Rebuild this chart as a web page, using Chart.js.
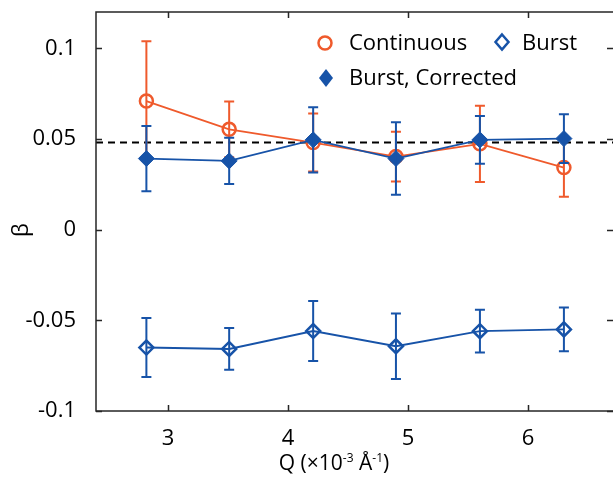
<!DOCTYPE html>
<html><head><meta charset="utf-8">
<script src="https://cdn.jsdelivr.net/npm/chart.js@4/dist/chart.umd.min.js"></script>
<style>
html,body{margin:0;padding:0;background:#fff;overflow:hidden;width:613px;height:477px}
#wrap{position:relative;width:625px;height:477px}
</style></head>
<body><div id="wrap"><canvas id="c" width="625" height="477"></canvas></div>
<script>
// ---- data ----
const qValues = [2.82, 3.51, 4.21, 4.90, 5.60, 6.30];
const continuous = [0.0709, 0.0553, 0.0480, 0.0403, 0.0473, 0.0342];
const continuousErr = [0.033, 0.0154, 0.016, 0.0137, 0.021, 0.016];
const burst = [-0.0650, -0.0658, -0.0559, -0.0643, -0.0560, -0.0550];
const burstErr = [0.0163, 0.0115, 0.0165, 0.0180, 0.0118, 0.0120];
const corrected = [0.0392, 0.0379, 0.0495, 0.0392, 0.0495, 0.0502];
const correctedErr = [0.0180, 0.0128, 0.0180, 0.0200, 0.0132, 0.0134];
const referenceLevel = 0.048;
const xTicks = [3, 4, 5, 6];
const yTicks = [-0.1, -0.05, 0, 0.05, 0.1];
const yTickLabels = ['-0.1', '-0.05', '0', '0.05', '0.1'];
const seriesNames = ['Continuous', 'Burst', 'Burst, Corrected'];

const ORANGE = '#EF5A2C';
const BLUE = '#1753A8';
const AXIS = '#262626';
const FONT = '"Open Sans", "Liberation Sans", sans-serif';

function pts(vals){ return qValues.map((q,i)=>({x:q, y:vals[i]})); }

function diamond(ctx, x, y, hw, hh){
  ctx.beginPath();
  ctx.moveTo(x, y-hh); ctx.lineTo(x+hw, y); ctx.lineTo(x, y+hh); ctx.lineTo(x-hw, y); ctx.closePath();
}
function noPad(s){ s.paddingTop = 0; s.paddingBottom = 0; s.paddingLeft = 0; s.paddingRight = 0; }

const plugin = {
  id: 'extras',
  beforeDatasetsDraw(chart){
    const {ctx, chartArea:a, scales:{y}} = chart;
    const py = y.getPixelForValue(referenceLevel);
    ctx.save();
    ctx.strokeStyle = '#000'; ctx.lineWidth = 2; ctx.setLineDash([7,5]);
    ctx.beginPath(); ctx.moveTo(a.left, py); ctx.lineTo(a.right, py); ctx.stroke();
    ctx.restore();
  },
  afterDatasetDraw(chart, args){
    const ds = chart.data.datasets[args.index];
    if (!ds.errors) return;
    const {ctx, scales:{x, y}} = chart;
    ctx.save();
    ctx.strokeStyle = ds.borderColor; ctx.lineWidth = 2;
    ds.data.forEach((p,i)=>{
      const px = x.getPixelForValue(p.x);
      const t = y.getPixelForValue(p.y + ds.errors[i]);
      const b = y.getPixelForValue(p.y - ds.errors[i]);
      ctx.beginPath();
      ctx.moveTo(px, t); ctx.lineTo(px, b);
      ctx.moveTo(px-5, t); ctx.lineTo(px+5, t);
      ctx.moveTo(px-5, b); ctx.lineTo(px+5, b);
      ctx.stroke();
    });
    ctx.restore();
  },
  afterDraw(chart){
    const {ctx, chartArea:a, scales:{x, y}} = chart;
    ctx.save();
    // frame
    ctx.strokeStyle = AXIS; ctx.lineWidth = 1.5;
    ctx.strokeRect(a.left, a.top, a.right - a.left, a.bottom - a.top);
    // inward ticks
    ctx.beginPath();
    xTicks.forEach(v=>{
      const px = Math.round(x.getPixelForValue(v)) + 0.5;
      ctx.moveTo(px, a.bottom); ctx.lineTo(px, a.bottom - 6);
      ctx.moveTo(px, a.top); ctx.lineTo(px, a.top + 6);
    });
    yTicks.forEach(v=>{
      const py = Math.round(y.getPixelForValue(v)) + 0.5;
      ctx.moveTo(a.left, py); ctx.lineTo(a.left + 6, py);
      ctx.moveTo(613, py); ctx.lineTo(607, py);
    });
    ctx.stroke();

    // y title (rotated)
    ctx.fillStyle = '#000';
    ctx.save();
    ctx.translate(22, 230); ctx.rotate(-Math.PI/2);
    ctx.font = '22px ' + FONT; ctx.textAlign = 'center'; ctx.textBaseline = 'middle';
    ctx.fillText('β', 0, 0);
    ctx.restore();

    // x title with superscripts
    const runs = [['Q (×10', 21, 0], ['-3', 12, -8], [' Å', 21, 0], ['-1', 12, -8], [')', 21, 0]];
    let total = 0;
    runs.forEach(r=>{ ctx.font = r[1] + 'px ' + FONT; total += ctx.measureText(r[0]).width; });
    let cx = 334 - total/2;
    ctx.textAlign = 'left'; ctx.textBaseline = 'alphabetic';
    runs.forEach(r=>{ ctx.font = r[1] + 'px ' + FONT; ctx.fillText(r[0], cx, 470 + r[2]); cx += ctx.measureText(r[0]).width; });

    // legend
    ctx.font = '22px ' + FONT;
    ctx.lineWidth = 2.5;
    ctx.strokeStyle = ORANGE;
    ctx.beginPath(); ctx.arc(325, 43, 6.5, 0, Math.PI*2); ctx.stroke();
    ctx.fillText(seriesNames[0], 349, 50);
    ctx.strokeStyle = BLUE;
    diamond(ctx, 502, 42, 6.5, 7.5); ctx.stroke();
    ctx.fillText(seriesNames[1], 522, 50);
    ctx.fillStyle = BLUE;
    diamond(ctx, 326, 78, 7, 9); ctx.fill();
    ctx.fillStyle = '#000';
    ctx.fillText(seriesNames[2], 349, 85);
    ctx.restore();
  }
};

new Chart(document.getElementById('c'), {
  type: 'scatter',
  data: {
    datasets: [
      { label: seriesNames[2], data: pts(corrected), errors: correctedErr, showLine: true,
        borderColor: BLUE, backgroundColor: BLUE, borderWidth: 1.8,
        pointStyle: 'rectRot', pointRadius: 8, pointBackgroundColor: BLUE, pointBorderColor: BLUE, pointBorderWidth: 1 },
      { label: seriesNames[0], data: pts(continuous), errors: continuousErr, showLine: true,
        borderColor: ORANGE, backgroundColor: ORANGE, borderWidth: 1.8,
        pointStyle: 'circle', pointRadius: 6.5, pointBackgroundColor: 'rgba(0,0,0,0)', pointBorderColor: ORANGE, pointBorderWidth: 2.5 },
      { label: seriesNames[1], data: pts(burst), errors: burstErr, showLine: true,
        borderColor: BLUE, backgroundColor: BLUE, borderWidth: 1.8,
        pointStyle: 'rectRot', pointRadius: 7, pointBackgroundColor: 'rgba(0,0,0,0)', pointBorderColor: BLUE, pointBorderWidth: 2.5 }
    ]
  },
  options: {
    responsive: false, animation: false, devicePixelRatio: 1,
    layout: { padding: { left: 0, top: 12, right: 7, bottom: 0 } },
    plugins: { legend: { display: false }, tooltip: { enabled: false } },
    scales: {
      x: { type: 'linear', min: 2.4, max: 6.73,
        grid: { display: false }, border: { display: false },
        afterBuildTicks: s => { s.ticks = xTicks.map(v => ({ value: v })); },
        afterFit: s => { s.height = 66; noPad(s); },
        ticks: { color: '#000', padding: 7, font: { family: FONT, size: 22 }, callback: v => String(v) } },
      y: { type: 'linear', min: -0.1, max: 0.12,
        grid: { display: false }, border: { display: false },
        afterBuildTicks: s => { s.ticks = yTicks.map(v => ({ value: v })); },
        afterFit: s => { s.width = 96; noPad(s); },
        ticks: { color: '#000', padding: 12, font: { family: FONT, size: 22 },
          callback: (v) => { const i = yTicks.findIndex(t => Math.abs(t - v) < 1e-9); return i >= 0 ? yTickLabels[i] : ''; } } }
    }
  },
  plugins: [plugin]
});
</script>
</body></html>
